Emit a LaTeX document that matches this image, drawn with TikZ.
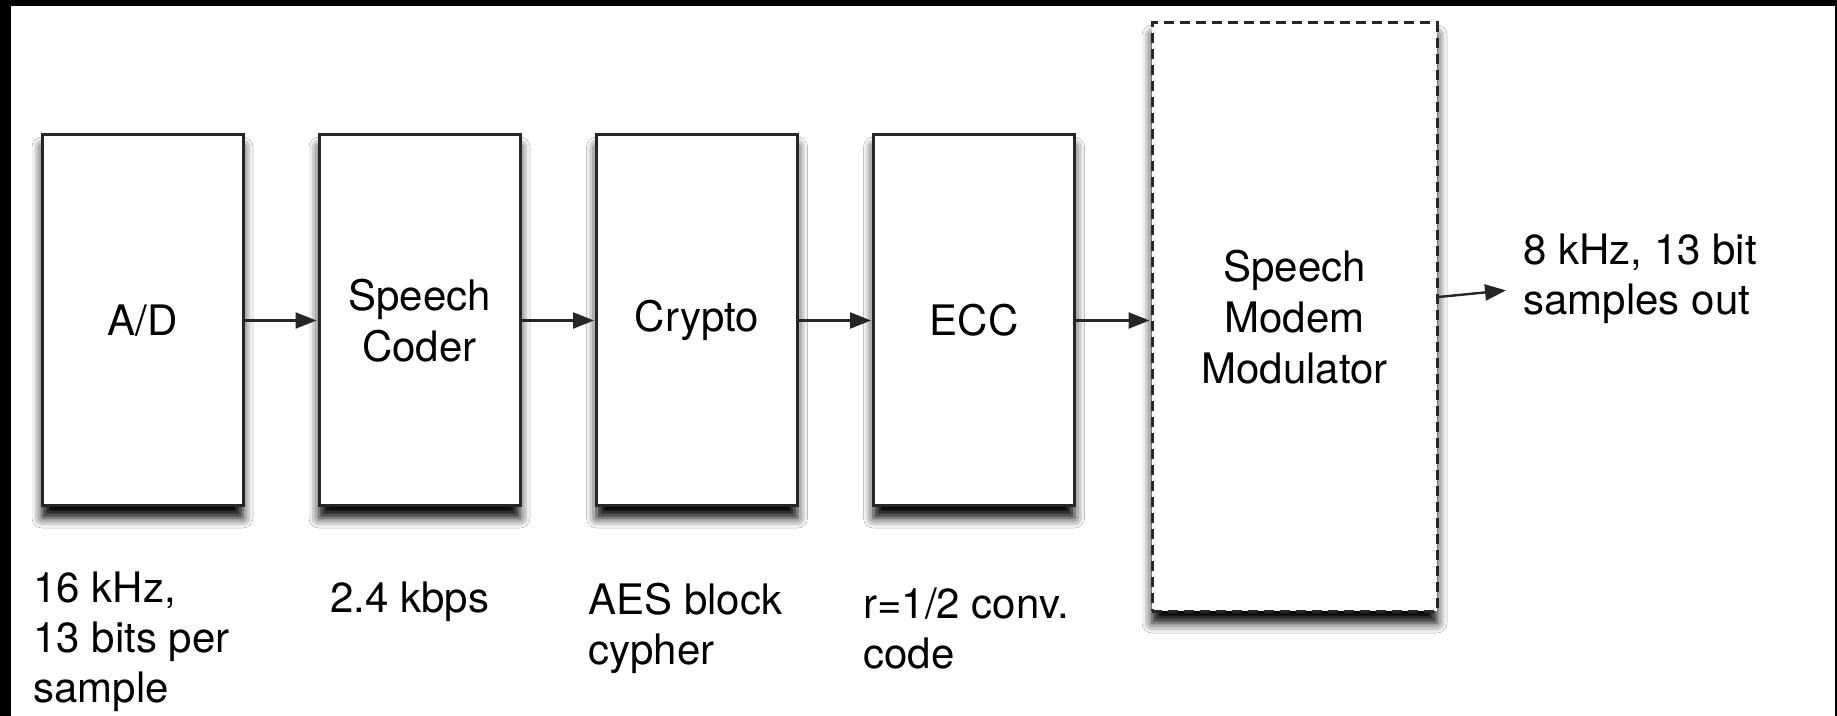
\documentclass[tikz,border=0pt]{standalone}
\usepackage{fontspec}
\setmainfont{TeX Gyre Heros}
\usetikzlibrary{arrows.meta,shadows.blur}
\begin{document}
\begin{tikzpicture}[x=0.5pt,y=-0.5pt,
  blk/.style={draw=black!85, line width=1.5pt, fill=white,
    minimum width=100.5pt, minimum height=185.5pt, inner sep=0pt,
    align=center, font=\fontsize{21}{25.5}\selectfont,
    blur shadow={shadow xshift=0pt, shadow yshift=-6pt,
      shadow blur radius=5pt, shadow opacity=100}},
  dashblk/.style={blk, dash pattern=on 5pt off 3pt,
    minimum width=142.5pt, minimum height=294pt},
  lbl/.style={anchor=north west, inner sep=0pt, align=left,
    font=\fontsize{21}{25}\selectfont},
  arr/.style={-{Triangle[length=10.5pt,width=8pt]}, line width=1.2pt, draw=black!85, shorten >=0.5pt}]
\useasboundingbox (0,0) rectangle (1837,716);
\fill[white] (0,0) rectangle (1837,716);
\fill[black] (0,0) rectangle (1837,6);
\fill[black] (0,0) rectangle (11,716);
\fill[black] (1835,0) rectangle (1837,716);

\node[blk] (ad) at (142.5,320.5) {A/D};
\node[blk] (sc) at (419.5,320.5) {Speech\\Coder};
\node[blk] (cr) at (697,320.5) {Crypto};
\node[blk] (ecc) at (974,320.5) {ECC};
\node[dashblk] (mod) at (1294.5,317) {Speech\\Modem\\Modulator};

\node[lbl] (out) at (1523,233) {8 kHz, 13 bit\\samples out};

\draw[arr] (ad) -- (sc);
\draw[arr] (sc) -- (cr);
\draw[arr] (cr) -- (ecc);
\draw[arr] (ecc.east) -- (ecc.east -| mod.west);
\draw[arr] ([yshift=10pt]mod.east) -- ([xshift=-8pt,yshift=-6pt]out.west);

\node[lbl] (l1) at (33,571) {16 kHz,\\13 bits per\\sample};
\node[lbl] (l2) at (330,581) {2.4 kbps};
\node[lbl] (l3) at (588,583) {AES block\\cypher};
\node[lbl] (l4) at (863,587) {r=1/2 conv.\\code};
\end{tikzpicture}
\end{document}
